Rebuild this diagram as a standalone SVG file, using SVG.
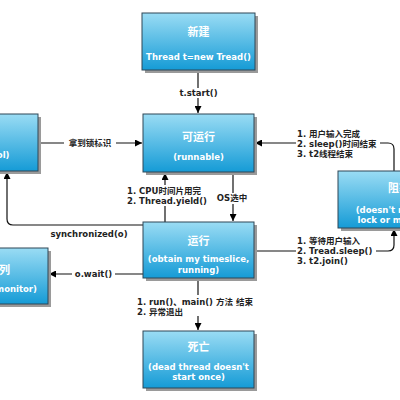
<svg xmlns="http://www.w3.org/2000/svg" width="400" height="400" viewBox="0 0 400 400">
<defs>
<linearGradient id="g" x1="0" y1="0" x2="0" y2="1">
<stop offset="0" stop-color="#9adcf4"/>
<stop offset="1" stop-color="#159bd6"/>
</linearGradient>
<marker id="a" viewBox="0 0 10 10" refX="10" refY="5" markerWidth="7" markerHeight="7" markerUnits="userSpaceOnUse" orient="auto">
<path d="M0,0 L10,5 L0,10 Z" fill="#000"/>
</marker>
<style>
.box{fill:url(#g);stroke:#2e4756;stroke-width:1}
.sh{fill:#9a9a9a}
.t{font-family:"DejaVu Sans","Noto Sans CJK SC",sans-serif;font-weight:bold;fill:#fff;text-anchor:middle}
.t1{font-size:11px}
.t2{font-size:8.5px}
.l{font-family:"DejaVu Sans","Noto Sans CJK SC",sans-serif;font-weight:bold;font-size:8.5px;fill:#222}
.c{fill:none;stroke:#111;stroke-width:1.2}
.bg{fill:#fff}
</style>
</defs>
<rect width="400" height="400" fill="#fff"/>
<g id="connectors">
<path class="c" d="M198,70 V113" marker-end="url(#a)"/>
<path class="c" d="M38,143 H142" marker-end="url(#a)"/>
<path class="c" d="M233,172 V221" marker-end="url(#a)"/>
<path class="c" d="M165,222 V173" marker-end="url(#a)"/>
<path class="c" d="M143,225 H13 Q7,225 7,219 V172" marker-end="url(#a)"/>
<path class="c" d="M143,274 H49" marker-end="url(#a)"/>
<path class="c" d="M198,278 V330" marker-end="url(#a)"/>
<path class="c" d="M394,171 V149 Q394,143 388,143 H255" marker-end="url(#a)"/>
<path class="c" d="M254,251 H388 Q394,251 394,245 V229" marker-end="url(#a)"/>
<rect class="bg" x="180" y="88" width="37" height="10"/>
<text class="l" x="198.5" y="96" text-anchor="middle">t.start()</text>
<rect class="bg" x="64" y="137" width="52" height="12"/>
<text class="l" x="90" y="146" text-anchor="middle">拿到锁标识</text>
<rect class="bg" x="126" y="185" width="80" height="21"/>
<text class="l" x="127" y="194">1. CPU时间片用完</text>
<text class="l" x="127" y="204">2. Thread.yield()</text>
<rect class="bg" x="217" y="193" width="31" height="11"/>
<text class="l" x="232" y="201" text-anchor="middle">OS选中</text>
<rect class="bg" x="296" y="128" width="84" height="31"/>
<text class="l" x="297" y="137">1. 用户输入完成</text>
<text class="l" x="297" y="147">2. sleep()时间结束</text>
<text class="l" x="297" y="157">3. t2线程结束</text>
<rect class="bg" x="296" y="235" width="80" height="31"/>
<text class="l" x="297" y="244">1. 等待用户输入</text>
<text class="l" x="297" y="254">2. Tread.sleep()</text>
<text class="l" x="297" y="264">3. t2.join()</text>
<text class="l" x="89" y="237" text-anchor="middle">synchronized(o)</text>
<rect class="bg" x="72" y="268" width="43" height="12"/>
<text class="l" x="93.5" y="277" text-anchor="middle">o.wait()</text>
<rect class="bg" x="136" y="295" width="114" height="21"/>
<text class="l" x="137" y="305">1. run()、main() 方法 结束</text>
<text class="l" x="137" y="315">2. 异常退出</text>
</g>
<g id="new">
<rect class="sh" x="145" y="16" width="113" height="57"/>
<rect class="box" x="142" y="13" width="113" height="57"/>
<text class="t t1" x="198.5" y="36">新建</text>
<text class="t t2" x="198.5" y="60">Thread t=new Tread()</text>
</g>
<g id="runnable">
<rect class="sh" x="146" y="117" width="111" height="58"/>
<rect class="box" x="143" y="114" width="111" height="58"/>
<text class="t t1" x="198.5" y="141">可运行</text>
<text class="t t2" x="198.5" y="160">(runnable)</text>
</g>
<g id="running">
<rect class="sh" x="146" y="225" width="111" height="56"/>
<rect class="box" x="143" y="222" width="111" height="56"/>
<text class="t t1" x="198.5" y="245">运行</text>
<text class="t t2" x="198.5" y="262">(obtain my timeslice,</text>
<text class="t t2" x="198.5" y="273">running)</text>
</g>
<g id="dead">
<rect class="sh" x="146" y="334" width="111" height="57"/>
<rect class="box" x="143" y="331" width="111" height="57"/>
<text class="t t1" x="198.5" y="351">死亡</text>
<text class="t t2" x="198.5" y="370">(dead thread doesn't</text>
<text class="t t2" x="198.5" y="380">start once)</text>
</g>
<g id="lockpool">
<rect class="sh" x="-72" y="117" width="113" height="57"/>
<rect class="box" x="-75" y="114" width="113" height="57"/>
<text class="t t1" x="-16" y="141">锁池</text>
<text class="t t2" x="-16" y="158">(lock pool)</text>
</g>
<g id="waitpool">
<rect class="sh" x="-62" y="251" width="113" height="56"/>
<rect class="box" x="-65" y="248" width="113" height="56"/>
<text class="t t1" x="-12" y="274">等待队列</text>
<text class="t t2" x="-5" y="292">(wait on monitor)</text>
</g>
<g id="blocked">
<rect class="sh" x="341" y="174" width="113" height="57"/>
<rect class="box" x="338" y="171" width="113" height="57"/>
<text class="t t1" x="399" y="192">阻塞</text>
<text class="t t2" x="394.5" y="213">(doesn't release</text>
<text class="t t2" x="396" y="223">lock or monitor)</text>
</g>
</svg>
